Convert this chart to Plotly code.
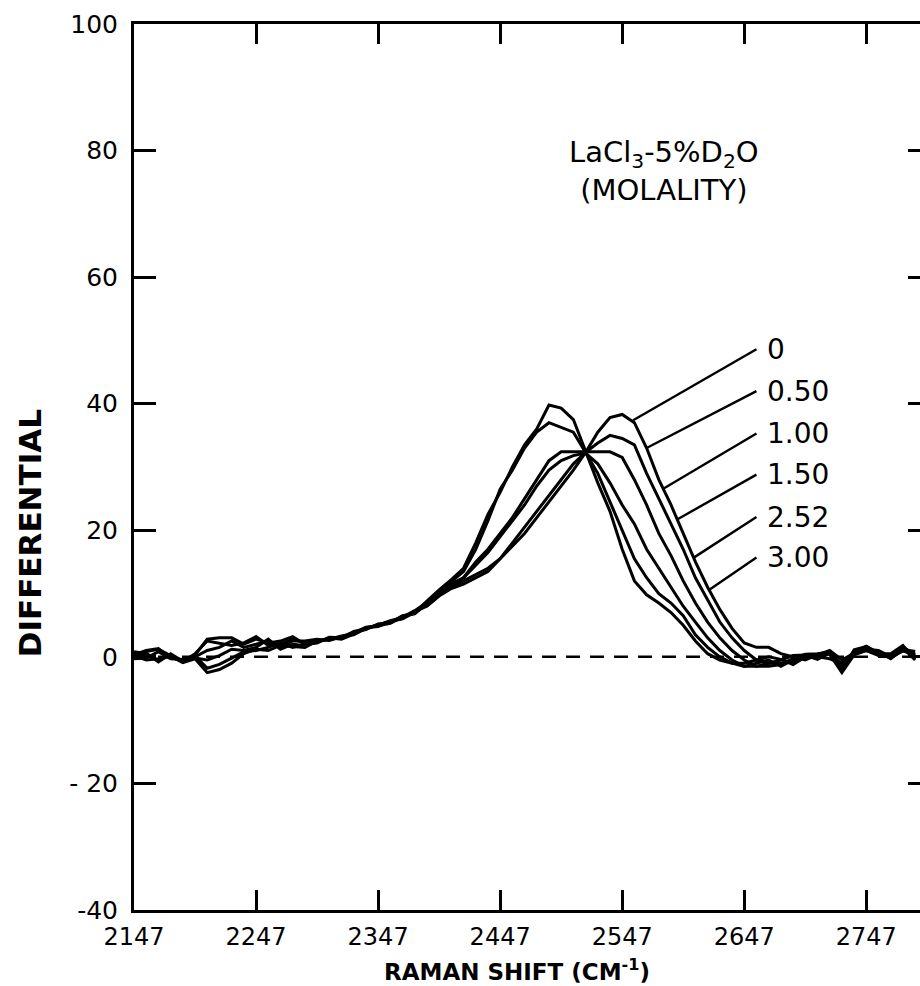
import plotly.graph_objects as go

# Raman shift sampling (cm^-1)
shift = [2147, 2157, 2167, 2177, 2187, 2197, 2207, 2217, 2227, 2237,
         2247, 2257, 2267, 2277, 2287, 2297, 2307, 2317, 2327, 2337,
         2347, 2357, 2367, 2377, 2387, 2397, 2407, 2417, 2427, 2437,
         2447, 2457, 2467, 2477, 2487, 2497, 2507, 2517, 2527, 2537,
         2547, 2557, 2567, 2577, 2587, 2597, 2607, 2617, 2627, 2637,
         2647, 2657, 2667, 2677, 2687, 2697, 2707, 2717, 2727, 2737,
         2747, 2757, 2767, 2777, 2787]

# Differential spectra of the OD stretch for each LaCl3 molality
m_000 = [0.5, 0.8, 1.2, 0.2, -0.6, 0.3, 2.8, 3.0, 3.0, 2.0, 2.8, 2.2, 2.5, 3.2, 2.0,
         2.3, 3.0, 2.8, 3.6, 4.6, 4.8, 5.6, 6.1, 7.2, 8.0, 9.6, 10.8,
         11.5, 12.5, 13.5, 15.5, 17.5, 19.5, 22.0, 24.5, 27.0, 29.5, 32.3,
         35.5, 37.8, 38.3, 37.0, 33.0, 28.0, 24.0, 19.5, 15.0, 11.0, 7.5, 4.5, 2.2, 1.5, 1.5,
         0.5, 0.0, -0.5, 0.3, 1.0, -0.5, 0.6, 1.4, 0.3, 0.2, 1.5, 0.4]
m_050 = [0.8, 0.5, -0.6, 0.3, -0.8, 0.5, 2.5, 2.2, 1.8, 2.2, 3.2, 1.8, 2.0, 2.8, 2.2,
         2.6, 2.7, 3.2, 3.9, 4.3, 5.2, 5.4, 6.5, 6.8, 8.4, 9.8, 11.0,
         12.0, 13.0, 14.0, 15.5, 18.0, 20.5, 23.0, 25.5, 28.0, 30.5, 32.3,
         33.8, 35.0, 34.5, 33.5, 29.0, 25.0, 21.0, 17.0, 12.5, 9.0, 5.5, 3.0, 1.0, -0.5, -1.0,
         -0.5, 0.2, 0.3, -0.4, 0.6, -1.8, 0.9, 1.0, 0.8, -0.3, 1.2, 0.8]
m_100 = [0.3, 1.0, 1.3, -0.2, -0.5, 0.0, 1.0, 1.5, 2.5, 1.5, 2.0, 2.5, 1.5, 2.5, 2.5,
         2.8, 2.6, 3.1, 3.7, 4.5, 5.0, 5.7, 6.2, 7.1, 8.2, 10.1, 11.3,
         12.5, 15.0, 17.0, 19.5, 22.0, 25.0, 28.0, 31.0, 32.4, 32.4, 32.4,
         32.4, 32.4, 31.5, 28.0, 24.0, 19.5, 16.0, 12.0, 8.5, 5.5, 3.0, 1.0, -0.5, -1.5, -1.5,
         -1.2, -0.3, 0.4, 0.5, 0.8, -2.2, 1.1, 1.6, 0.5, 0.5, 1.8, -0.4]
m_150 = [0.0, 0.6, -0.8, 0.5, -0.7, -0.2, -0.5, 0.2, 1.2, 1.0, 1.5, 2.8, 1.2, 2.0, 1.8,
         2.4, 2.9, 2.9, 4.0, 4.4, 5.1, 5.5, 6.4, 6.9, 8.5, 10.2, 11.6,
         12.5, 14.5, 16.5, 19.0, 21.5, 24.0, 27.0, 29.5, 31.0, 31.8, 32.2,
         30.5, 27.5, 24.0, 21.0, 17.0, 14.0, 11.0, 8.0, 5.5, 3.0, 1.0, -0.5, -1.5, -1.5, -1.0,
         -1.0, -0.8, 0.2, 0.0, -0.3, -1.0, 0.5, 1.2, 1.0, 0.0, 0.9, 0.9]
m_252 = [-0.3, -0.2, 0.8, -0.3, -0.4, 0.2, -1.8, -1.2, -0.2, 0.8, 1.0, 1.5, 2.2, 1.5, 2.0,
         2.2, 3.1, 3.0, 3.8, 4.7, 4.9, 5.3, 6.3, 7.3, 8.6, 10.4, 11.9,
         13.5, 17.0, 21.5, 26.5, 29.5, 33.0, 35.5, 37.0, 36.2, 35.5, 32.3,
         29.0, 24.5, 20.0, 15.5, 12.5, 10.0, 8.5, 6.5, 3.5, 1.5, 0.0, -1.0, -1.5, -1.0, -0.5,
         -1.5, -0.5, -0.2, 0.4, 0.4, -2.5, 0.3, 1.0, 0.2, 0.3, 1.4, -0.5]
m_300 = [0.2, -0.5, -0.3, 0.1, -0.9, -0.3, -2.5, -2.0, -1.0, 0.5, 1.2, 1.0, 1.8, 1.6, 1.5,
         2.5, 2.8, 3.3, 3.5, 4.5, 5.1, 5.6, 6.0, 7.0, 8.8, 10.6, 12.2,
         14.0, 18.0, 22.5, 26.0, 30.0, 33.5, 36.0, 39.8, 39.3, 37.5, 32.5,
         27.5, 23.0, 17.0, 12.0, 9.8, 8.5, 7.0, 5.0, 2.5, 0.5, -0.5, -1.0, -1.0, -0.5, 0.0,
         -0.4, -1.2, 0.0, -0.2, 0.7, -1.2, 0.8, 1.7, 0.6, -0.2, 1.0, 0.2]

molality_labels = ["0", "0.50", "1.00", "1.50", "2.52", "3.00"]
spectra = [m_000, m_050, m_100, m_150, m_252, m_300]

# Leader lines: label anchor (x, y) and the point on the band they point to
label_x = [2657, 2657, 2657, 2657, 2657, 2657]
label_y = [48.6, 42.0, 35.3, 28.8, 22.1, 15.7]
tip_x = [2556, 2567, 2581, 2592, 2605, 2619]
tip_y = [37.4, 33.0, 26.6, 21.7, 15.6, 10.7]

x_ticks = [2147, 2247, 2347, 2447, 2547, 2647, 2747]
y_ticks = [-40, -20, 0, 20, 40, 60, 80, 100]
y_tick_text = ["-40", "- 20", "0", "20", "40", "60", "80", "100"]
x_range = [2147, 2791]
y_range = [-40, 100]

FONT = "DejaVu Sans"
INK = "black"

fig = go.Figure()

for name, ys in zip(molality_labels, spectra):
    fig.add_trace(go.Scatter(
        x=shift, y=ys, mode="lines", name=name,
        line=dict(color=INK, width=3), showlegend=False,
    ))

# empty trace so the right-hand tick axis is laid out
fig.add_trace(go.Scatter(x=[], y=[], yaxis="y2", showlegend=False,
                         hoverinfo="skip"))

# dashed zero reference
fig.add_shape(type="line", xref="x", yref="y", x0=x_range[0], x1=x_range[1],
              y0=0, y1=0, layer="below",
              line=dict(color=INK, width=2.5, dash="14px,10px"))

for lx, ly, tx, ty, txt in zip(label_x, label_y, tip_x, tip_y, molality_labels):
    fig.add_shape(type="line", xref="x", yref="y", x0=lx, y0=ly, x1=tx, y1=ty,
                  line=dict(color=INK, width=2.4))
    fig.add_annotation(x=lx + 7, y=ly, xref="x", yref="y", text=txt,
                       showarrow=False, xanchor="left", yanchor="middle",
                       font=dict(family=FONT, size=28, color=INK))

fig.add_annotation(x=2581, y=76.8, xref="x", yref="y",
                   text="LaCl<sub>3</sub>-5%D<sub>2</sub>O<br>(MOLALITY)",
                   showarrow=False, align="center",
                   xanchor="center", yanchor="middle",
                   font=dict(family=FONT, size=29, color=INK))

# axis titles
fig.add_annotation(x=-0.132, y=0.4255, xref="paper", yref="paper",
                   text="<b>DIFFERENTIAL</b>", textangle=-90, showarrow=False,
                   xanchor="center", yanchor="middle",
                   font=dict(family=FONT, size=31, color=INK))
fig.add_annotation(x=0.487, y=-0.068, xref="paper", yref="paper",
                   text="<b>RAMAN SHIFT (CM<sup>-1</sup>)</b>", showarrow=False,
                   xanchor="center", yanchor="middle",
                   font=dict(family=FONT, size=23, color=INK))

fig.update_layout(
    width=920, height=986,
    margin=dict(l=134, r=0, t=24, b=76),
    paper_bgcolor="white", plot_bgcolor="white",
    font=dict(family=FONT, color=INK),
    xaxis=dict(range=x_range, tickvals=x_ticks, ticks="inside", ticklen=20,
               tickwidth=2.5, tickcolor=INK, showline=True, linewidth=3,
               linecolor=INK, mirror="ticks", showgrid=False, zeroline=False,
               tickfont=dict(family=FONT, size=24, color=INK),
               ticklabelstandoff=3),
    yaxis=dict(range=y_range, tickvals=y_ticks, ticktext=y_tick_text,
               ticks="inside", ticklen=22,
               tickwidth=2.5, tickcolor=INK, showline=True, linewidth=3,
               linecolor=INK, showgrid=False, zeroline=False,
               tickfont=dict(family=FONT, size=25, color=INK),
               ticklabelstandoff=8),
    yaxis2=dict(range=y_range, tickvals=y_ticks, overlaying="y", side="right",
                ticks="inside", ticklen=12, tickwidth=2.5, tickcolor=INK,
                showline=False, showgrid=False, zeroline=False,
                showticklabels=False),
)

fig.write_html("out.html")
